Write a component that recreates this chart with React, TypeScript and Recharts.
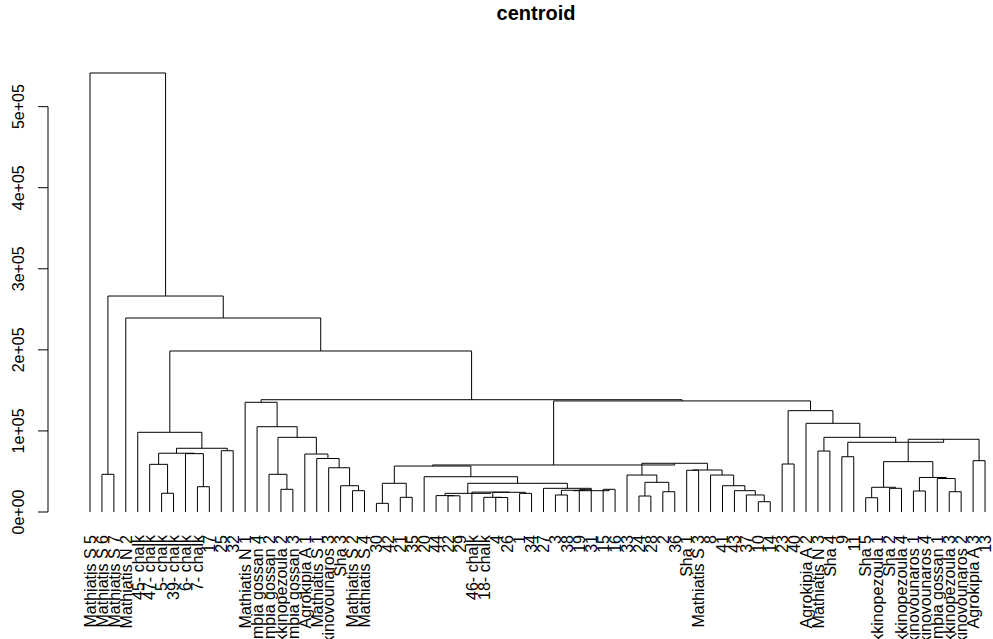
import React from 'react';
import { ComposedChart, Line, XAxis, YAxis, ReferenceLine } from 'recharts';

// leaves, in the order they are drawn
const leafLabels = [
  'Mathiatis S 5', 'Mathiatis S 6', 'Mathiatis S 7', 'Mathiatis N 2', '45- chalk', '47- chalk',
  '5- chalk', '39- chalk', '6- chalk', '7- chalk', '17', '25', '32', 'Mathiatis N 1',
  'Kambia gossan 4', 'Kambia gossan 2', 'Kokkinopezoula 2', 'Kambia gossan 3', 'Agrokipia A 1',
  'Mathiatis S 1', 'Kokkinovounaros 3', 'Sha 3', 'Mathiatis S 2', 'Mathiatis S 4', '30', '42',
  '21', '35', '20', '44', '22', '29', '46- chalk', '18- chalk', '4', '26', '1', '34', '27', '3',
  '38', '19', '31', '15', '16', '33', '24', '28', '2', '36', 'Sha 1', 'Mathiatis S 3', '8', '41',
  '43', '37', '10', '14', '23', '40', 'Agrokipia A 2', 'Mathiatis N 3', 'Sha 4', '9', '11',
  'Sha 5', 'Kokkinopezoula 1', 'Sha 2', 'Kokkinopezoula 4', 'Kokkinovounaros 1',
  'Kokkinovounaros 4', 'Kambia gossan 1', 'Kokkinopezoula 3', 'Kokkinovounaros 2',
  'Agrokipia A 3', '13',
];

// merges, hclust style: negative = leaf number, positive = earlier merge number
const mergeLeft = [
  -2, -7, -6, -10, -9, 3, -12, 6, -5,
  -17, -16, -23, -22, -21, -20, -19, 11, -15, -14,
  -25, -27, 20, -31, -30, -35, -34, -37, 26, -33, 24, -40, -42, 31, -44, 33, -39, 30, -29, 22,
  -47, -49, 40, -46, -57, -56, -55, -54, -53, -51, 49, 43, 39,
  -59, -62, -64, -66, -68, 56, -70, -73, -72, 59, 58, -75, 63, 55, 54, -61, 53, 52, 19, 9, -4, 1, -1,
];
const mergeRight = [
  -3, -8, 2, -11, 4, 5, -13, 7, 8,
  -18, 10, -24, 12, 13, 14, 15, 16, 17, 18,
  -26, -28, 21, -32, 23, -36, 25, -38, 27, 28, 29, -41, -43, 32, -45, 34, 35, 36, 37, 38,
  -48, -50, 41, 42, -58, 44, 45, 46, 47, -52, 48, 50, 51,
  -60, -63, -65, -67, -69, 57, -71, -74, 60, 61, 62, -76, 64, 65, 66, 67, 68, 69, 70, 71, 72, 73, 74,
];
const mergeHeight = [
  46500, 23100, 58800, 31200, 72000, 72500, 75600, 78600, 98300,
  28000, 46500, 26300, 32400, 54600, 66000, 71500, 92100, 105200, 135300,
  10700, 18100, 35400, 20000, 20200, 17900, 18100, 23000, 24300, 24500, 23000, 21000, 27500, 26800,
  28000, 26300, 29200, 35400, 43500, 56700,
  19700, 25000, 36600, 45600, 12700, 21000, 26300, 32400, 45600, 51500, 51800, 60100, 58000,
  59200, 75200, 68200, 17600, 29200, 30500, 25900, 25000, 41300, 42600, 62100, 63300, 89700,
  86000, 92100, 109400, 125000, 137000, 138500, 198600, 239300, 266400, 541500,
];

const yTicks = [0, 100000, 200000, 300000, 400000, 500000];
const yTickLabels = ['0e+00', '1e+05', '2e+05', '3e+05', '4e+05', '5e+05'];

const X_MIN = -2.52;
const X_MAX = 76.5;
const FONT = '"Liberation Sans", Arial, Helvetica, sans-serif';

// one polyline (left leg, bar, right leg) per merge
const nodeX: number[] = [];
const nodeH: number[] = [];
const at = (id: number) => (id < 0 ? { x: -id, h: 0 } : { x: nodeX[id - 1], h: nodeH[id - 1] });
const branches = mergeLeft.map((l, i) => {
  const a = at(l);
  const b = at(mergeRight[i]);
  const h = mergeHeight[i];
  nodeX[i] = (a.x + b.x) / 2;
  nodeH[i] = h;
  return [
    { x: a.x, y: a.h },
    { x: a.x, y: h },
    { x: b.x, y: h },
    { x: b.x, y: b.h },
  ];
});

const leafTicks = leafLabels.map((_, i) => i + 1);

const LeafTick = ({ x, y, payload }: any) => (
  <text
    transform={`translate(${x},${y + 23}) rotate(-90)`}
    textAnchor="end"
    dy="0.36em"
    fontSize={16}
    fontFamily={FONT}
    fill="#000"
  >
    {leafLabels[payload.value - 1]}
  </text>
);

const HeightTick = ({ x, y, payload }: any) => (
  <g>
    <line x1={x - 10} x2={x} y1={y} y2={y} stroke="#000" />
    <text
      transform={`translate(${x - 24},${y}) rotate(-90)`}
      textAnchor="middle"
      fontSize={16}
      fontFamily={FONT}
      fill="#000"
    >
      {yTickLabels[yTicks.indexOf(payload.value)]}
    </text>
  </g>
);

export default function App() {
  return (
    <div style={{ position: 'absolute', left: 0, top: 0, width: 993, height: 639, background: '#fff' }}>
      <div
        style={{
          position: 'absolute', left: 536, top: 2, transform: 'translateX(-50%)',
          fontFamily: FONT, fontWeight: 'bold', fontSize: 20,
        }}
      >
        centroid
      </div>
      <ComposedChart width={993} height={639} margin={{ top: 58, right: 2, bottom: 0, left: 0 }}>
        <XAxis
          type="number"
          dataKey="x"
          domain={[X_MIN, X_MAX]}
          ticks={leafTicks}
          interval={0}
          height={127}
          axisLine={false}
          tickLine={false}
          tickSize={0}
          tickMargin={0}
          tick={<LeafTick />}
        />
        <YAxis
          type="number"
          domain={[0, 560000]}
          ticks={yTicks}
          width={48}
          axisLine={false}
          tickLine={false}
          tickSize={0}
          tickMargin={0}
          tick={<HeightTick />}
        />
        <ReferenceLine
          segment={[{ x: X_MIN, y: 0 }, { x: X_MIN, y: 500000 }]}
          stroke="#000"
          ifOverflow="visible"
        />
        {branches.map((pts, i) => (
          <Line
            key={i}
            data={pts}
            dataKey="y"
            type="linear"
            stroke="#000"
            strokeWidth={1}
            dot={false}
            activeDot={false}
            isAnimationActive={false}
          />
        ))}
      </ComposedChart>
    </div>
  );
}
